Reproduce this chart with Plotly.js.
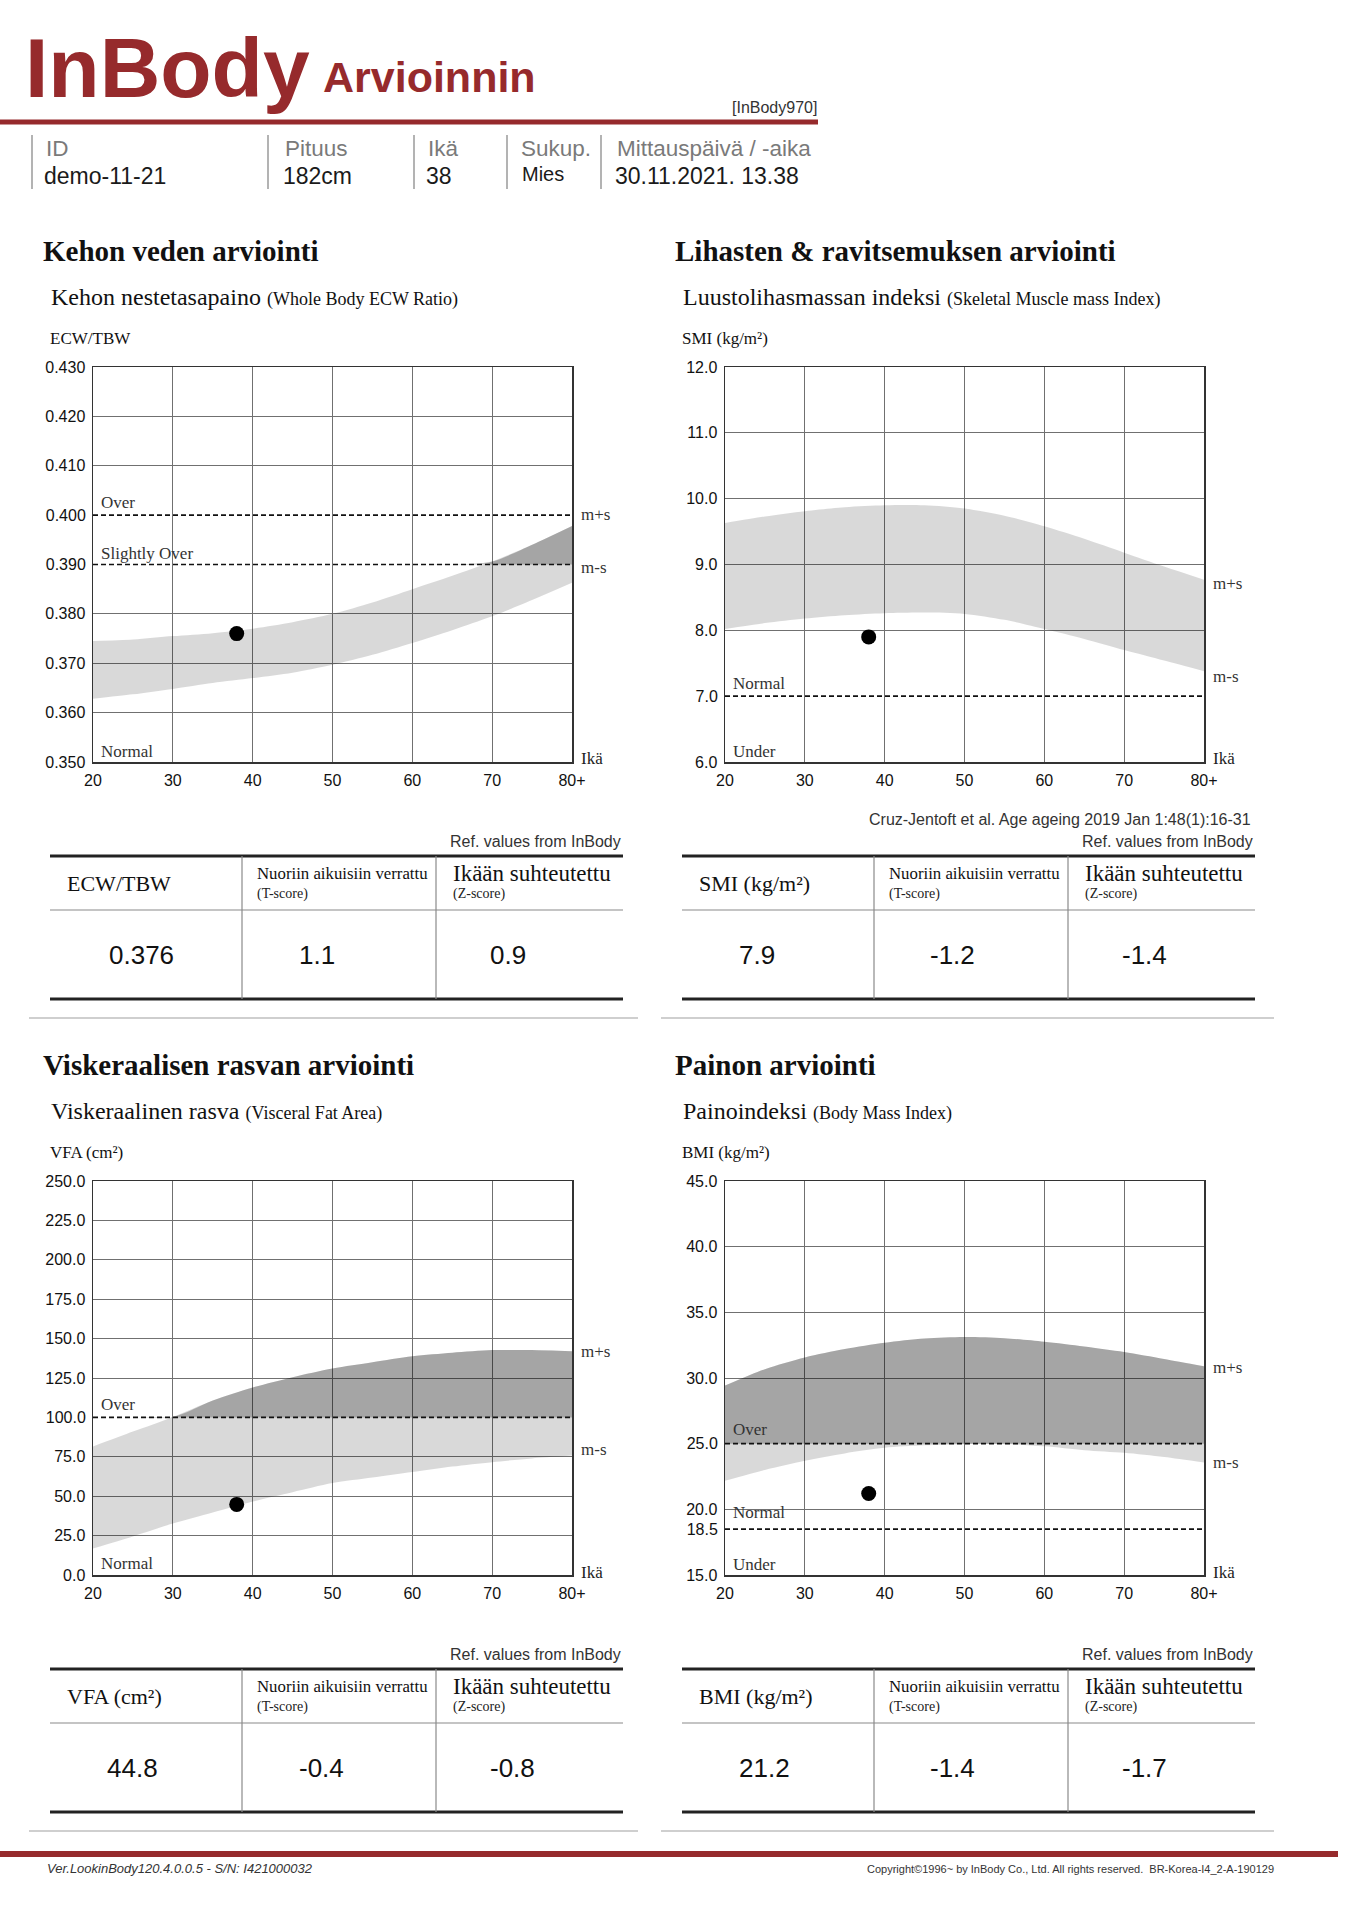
<!DOCTYPE html>
<html>
<head>
<meta charset="utf-8">
<script src="https://cdn.plot.ly/plotly-3.0.1.min.js"></script>
<style>html,body{margin:0;padding:0;background:#fff;}#chart{width:1363px;height:1920px;}</style>
</head>
<body>
<div id="chart"></div>
<script>
// ---------------- DATA ----------------
const ages = [20, 25, 30, 35, 40, 45, 50, 55, 60, 65, 70, 75, 80];
const xTickVals = [20, 30, 40, 50, 60, 70, 80];
const xTickText = ['20', '30', '40', '50', '60', '70', '80+'];

// ECW/TBW reference band (m+s / m-s)
const ecwUpper = [0.3745, 0.3748, 0.3755, 0.3761, 0.3770, 0.3783, 0.3800, 0.3823, 0.3850, 0.3877, 0.3906, 0.3940, 0.3978];
const ecwLower = [0.3628, 0.3637, 0.3648, 0.3660, 0.3670, 0.3681, 0.3697, 0.3717, 0.3741, 0.3767, 0.3795, 0.3828, 0.3863];
const ecwTicks = [0.350, 0.360, 0.370, 0.380, 0.390, 0.400, 0.410, 0.420, 0.430];
const ecwDashed = [0.390, 0.400];
const ecwDarkFrom = 0.390;

// SMI reference band
const smiUpper = [9.63, 9.73, 9.81, 9.87, 9.90, 9.90, 9.85, 9.74, 9.58, 9.39, 9.18, 8.97, 8.77];
const smiLower = [8.02, 8.11, 8.18, 8.23, 8.26, 8.27, 8.25, 8.16, 8.02, 7.87, 7.70, 7.54, 7.38];
const smiTicks = [6.0, 7.0, 8.0, 9.0, 10.0, 11.0, 12.0];
const smiDashed = [7.0];

// VFA reference band
const vfaUpper = [81.6, 91.0, 100.3, 110.8, 119.0, 125.5, 131.0, 135.0, 138.8, 141.0, 142.7, 142.7, 142.0];
const vfaLower = [16.8, 24.5, 32.6, 39.6, 46.6, 52.5, 58.3, 61.8, 65.3, 68.8, 71.6, 74.0, 75.8];
const vfaTicks = [0, 25, 50, 75, 100, 125, 150, 175, 200, 225, 250];
const vfaDashed = [100];
const vfaDarkFrom = 100;

// BMI reference band
const bmiUpper = [29.42, 30.67, 31.56, 32.20, 32.68, 33.00, 33.12, 33.03, 32.76, 32.40, 31.98, 31.45, 30.90];
const bmiLower = [22.17, 23.00, 23.70, 24.26, 24.68, 24.87, 24.96, 24.96, 24.80, 24.50, 24.30, 23.98, 23.56];
const bmiTicks = [15.0, 18.5, 20.0, 25.0, 30.0, 35.0, 40.0, 45.0];
const bmiDashed = [18.5, 25.0];
const bmiDarkFrom = 25.0;

// Measurement
const patientAge = 38;
const measuredValues = [0.376, 7.9, 44.8, 21.2];
const measuredText = ['0.376', '7.9', '44.8', '21.2'];
const tScores = ['1.1', '-1.2', '-0.4', '-1.4'];
const zScores = ['0.9', '-1.4', '-0.8', '-1.7'];
const tableMetrics = ['ECW/TBW', 'SMI (kg/m²)', 'VFA (cm²)', 'BMI (kg/m²)'];

// Header info
const infoLabels = ['ID', 'Pituus', 'Ikä', 'Sukup.', 'Mittauspäivä / -aika'];
const infoValues = ['demo-11-21', '182cm', '38', 'Mies', '30.11.2021. 13.38'];

// ---------------- LAYOUT HELPERS ----------------
const W = 1363, H = 1920;
const SERIF = '"Liberation Serif", "Times New Roman", serif';
const SANS = '"Liberation Sans", Arial, sans-serif';
const RED = '#962a2c';
const px = x => x / W;
const py = y => 1 - y / H;

const annotations = [];
const shapes = [];
function T(x, y, text, size, o) {
  o = o || {};
  annotations.push({
    xref: 'paper', yref: 'paper', x: px(x), y: py(y), text: text, showarrow: false,
    xanchor: o.xa || 'left', yanchor: o.ya || 'middle', borderpad: 0,
    font: {family: o.family || SANS, size: size, color: o.color || '#1a1a1a'}
  });
}
function L(x0, y0, x1, y1, color, width, dash) {
  shapes.push({type: 'line', xref: 'paper', yref: 'paper', x0: px(x0), y0: py(y0), x1: px(x1), y1: py(y1),
    line: {color: color, width: width, dash: dash || 'solid'}, layer: 'above'});
}

// ---------------- HEADER ----------------
T(24, 68, '<b>InBody</b>', 84, {color: RED});
T(322, 77, '<b>Arvioinnin</b>', 43, {color: RED});
T(818, 107, '[InBody970]', 16, {xa: 'right', color: '#333'});
L(0, 122, 818, 122, RED, 5);
const infoX = [45, 284, 427, 520, 616];
const sepX = [32, 268, 414, 507, 601];
sepX.forEach(x => L(x, 135, x, 189, '#9a9a9a', 1.5));
infoLabels.forEach((s, i) => T(infoX[i], 148, s, 22.5, {color: '#7a7a7a'}));
infoValues.forEach((s, i) => T(infoX[i] - 2 + (i === 3 ? 3 : 0), i === 3 ? 174 : 176, s, i === 3 ? 20 : 23, {color: '#1a1a1a'}));

// ---------------- PANELS ----------------
const panels = [
  {title: 'Kehon veden arviointi', sub: 'Kehon nestetasapaino', subEn: '(Whole Body ECW Ratio)', ytitle: 'ECW/TBW',
   left: 93, right: 572, top: 367, bottom: 762, colX: 42,
   upper: ecwUpper, lower: ecwLower, ticks: ecwTicks, dashed: ecwDashed, dark: ecwDarkFrom, dec: 3},
  {title: 'Lihasten &amp; ravitsemuksen arviointi', sub: 'Luustolihasmassan indeksi', subEn: '(Skeletal Muscle mass Index)', ytitle: 'SMI (kg/m²)',
   left: 725, right: 1204, top: 367, bottom: 762, colX: 674,
   upper: smiUpper, lower: smiLower, ticks: smiTicks, dashed: smiDashed, dark: null, dec: 1},
  {title: 'Viskeraalisen rasvan arviointi', sub: 'Viskeraalinen rasva', subEn: '(Visceral Fat Area)', ytitle: 'VFA (cm²)',
   left: 93, right: 572, top: 1181, bottom: 1575, colX: 42,
   upper: vfaUpper, lower: vfaLower, ticks: vfaTicks, dashed: vfaDashed, dark: vfaDarkFrom, dec: 1},
  {title: 'Painon arviointi', sub: 'Painoindeksi', subEn: '(Body Mass Index)', ytitle: 'BMI (kg/m²)',
   left: 725, right: 1204, top: 1181, bottom: 1575, colX: 674,
   upper: bmiUpper, lower: bmiLower, ticks: bmiTicks, dashed: bmiDashed, dark: bmiDarkFrom, dec: 1}
];

const traces = [];
const layout = {
  width: W, height: H, margin: {l: 0, r: 0, t: 0, b: 0},
  paper_bgcolor: '#ffffff', plot_bgcolor: 'rgba(0,0,0,0)', showlegend: false,
  annotations: annotations, shapes: shapes
};

panels.forEach((p, i) => {
  const n = i + 1;
  const xa = n === 1 ? 'x' : 'x' + n;
  const ya = n === 1 ? 'y' : 'y' + n;
  const ovl = 'y' + (n + 4);
  const rng = [p.ticks[0], p.ticks[p.ticks.length - 1]];
  const fmt = v => v.toFixed(p.dec);
  const gridVals = p.ticks.filter(v => p.dashed.indexOf(v) < 0);
  const tickFont = {family: SANS, size: 16, color: '#111'};
  layout['xaxis' + (n === 1 ? '' : n)] = {
    domain: [px(p.left), px(p.right)], anchor: ya, range: [ages[0], ages[ages.length - 1]],
    tickmode: 'array', tickvals: xTickVals, ticktext: xTickText, tickfont: tickFont,
    ticks: 'outside', ticklen: 3, tickcolor: 'rgba(0,0,0,0)',
    showgrid: true, gridcolor: '#707070', gridwidth: 1, zeroline: false,
    showline: true, mirror: true, linecolor: '#333', linewidth: 1.5, fixedrange: true
  };
  layout['yaxis' + (n === 1 ? '' : n)] = {
    domain: [py(p.bottom), py(p.top)], anchor: xa, range: rng,
    tickmode: 'array', tickvals: gridVals, ticktext: gridVals.map(fmt), tickfont: tickFont,
    ticks: 'outside', ticklen: 3, tickcolor: 'rgba(0,0,0,0)',
    showgrid: true, gridcolor: '#707070', gridwidth: 1, zeroline: false,
    showline: true, mirror: true, linecolor: '#333', linewidth: 1.5, fixedrange: true
  };
  layout['yaxis' + (n + 4)] = {
    overlaying: ya, anchor: xa, side: 'left', range: rng,
    tickmode: 'array', tickvals: p.dashed, ticktext: p.dashed.map(fmt), tickfont: tickFont,
    ticks: 'outside', ticklen: 3, tickcolor: 'rgba(0,0,0,0)',
    showgrid: false, zeroline: false, showline: false, fixedrange: true
  };
  traces.push({x: [], y: [], xaxis: xa, yaxis: ovl, mode: 'markers', hoverinfo: 'skip', showlegend: false});

  // reference band (light)
  traces.push({x: ages, y: p.lower, xaxis: xa, yaxis: ya, mode: 'lines', line: {width: 0, shape: 'spline', smoothing: 0.8}, hoverinfo: 'skip'});
  traces.push({x: ages, y: p.upper, xaxis: xa, yaxis: ya, mode: 'lines', line: {width: 0, shape: 'spline', smoothing: 0.8},
    fill: 'tonexty', fillcolor: 'rgba(0,0,0,0.15)', hoverinfo: 'skip'});
  // part of band above the "Over" limit (darker)
  if (p.dark !== null) {
    traces.push({x: ages, y: p.lower.map(v => Math.max(v, p.dark)), xaxis: xa, yaxis: ya, mode: 'lines',
      line: {width: 0, shape: 'spline', smoothing: 0.8}, hoverinfo: 'skip'});
    traces.push({x: ages, y: p.upper.map(v => Math.max(v, p.dark)), xaxis: xa, yaxis: ya, mode: 'lines',
      line: {width: 0, shape: 'spline', smoothing: 0.8}, fill: 'tonexty', fillcolor: 'rgba(0,0,0,0.24)', hoverinfo: 'skip'});
  }
  // measured point
  traces.push({x: [patientAge], y: [measuredValues[i]], xaxis: xa, yaxis: ya, mode: 'markers',
    marker: {size: 15, color: '#000'}, hoverinfo: 'skip'});
  // dashed limits
  p.dashed.forEach(v => shapes.push({type: 'line', xref: xa, yref: ya, x0: ages[0], x1: ages[ages.length - 1], y0: v, y1: v,
    line: {color: '#111', width: 1.7, dash: '5px,3px'}, layer: 'above'}));

  // texts
  const dy = p.top - 367;
  T(p.colX, 251 + dy, '<b>' + p.title + '</b>', 29, {family: SERIF, color: '#111'});
  T(p.colX + 8, 297 + dy, p.sub + ' <span style="font-size:18px">' + p.subEn + '</span>', 24, {family: SERIF, color: '#111'});
  T(p.colX + 7, 338 + dy, p.ytitle, 17, {family: SERIF, color: '#111'});
  T(p.right + 8, p.bottom - 3, 'Ikä', 17, {family: SERIF, color: '#222'});
});

// in-chart zone labels
const lab = (x, y, s) => T(x, y, s, 17, {family: SERIF, color: '#333'});
lab(100, 502, 'Over'); lab(100, 553, 'Slightly Over'); lab(100, 752, 'Normal');
lab(580, 514, 'm+s'); lab(580, 567, 'm-s');
lab(732, 684, 'Normal'); lab(732, 751, 'Under');
lab(1212, 583, 'm+s'); lab(1212, 676, 'm-s');
lab(100, 1404, 'Over'); lab(100, 1563, 'Normal');
lab(580, 1351, 'm+s'); lab(580, 1449, 'm-s');
lab(732, 1429, 'Over'); lab(732, 1512, 'Normal'); lab(732, 1564, 'Under');
lab(1212, 1367, 'm+s'); lab(1212, 1462, 'm-s');

// ---------------- TABLES ----------------
const tables = [
  {l: 50, r: 623, v1: 242, v2: 436, top: 856, metricX: 66, valX: [141, 317, 508]},
  {l: 682, r: 1255, v1: 874, v2: 1068, top: 856, metricX: 698, valX: [757, 953, 1144]},
  {l: 50, r: 623, v1: 242, v2: 436, top: 1669, metricX: 66, valX: [132, 321, 512]},
  {l: 682, r: 1255, v1: 874, v2: 1068, top: 1669, metricX: 698, valX: [764, 953, 1144]}
];
tables.forEach((t, i) => {
  const mid = t.top + 54, bot = t.top + 143;
  L(t.l, t.top, t.r, t.top, '#222', 3);
  L(t.l, mid, t.r, mid, '#8a8a8a', 1.2);
  L(t.l, bot, t.r, bot, '#222', 3);
  L(t.v1, t.top, t.v1, bot, '#8a8a8a', 1.2);
  L(t.v2, t.top, t.v2, bot, '#8a8a8a', 1.2);
  T(t.r - 1, t.top - 15, 'Ref. values from InBody', 16, {xa: 'right', color: '#333'});
  T(t.metricX, t.top + 27, tableMetrics[i], 22, {family: SERIF, color: '#111'});
  T(t.v1 + 14, t.top + 17, 'Nuoriin aikuisiin verrattu', 16.8, {family: SERIF, color: '#111'});
  T(t.v1 + 14, t.top + 38, '(T-score)', 14, {family: SERIF, color: '#222'});
  T(t.v2 + 16, t.top + 17, 'Ikään suhteutettu', 23, {family: SERIF, color: '#111'});
  T(t.v2 + 16, t.top + 38, '(Z-score)', 14, {family: SERIF, color: '#222'});
  T(t.valX[0], t.top + 99, measuredText[i], 26, {xa: 'center', color: '#111'});
  T(t.valX[1], t.top + 99, tScores[i], 26, {xa: 'center', color: '#111'});
  T(t.valX[2], t.top + 99, zScores[i], 26, {xa: 'center', color: '#111'});
  const sepY = bot + 19;
  L(t.l - 21, sepY, t.r + 15 + (i % 2 ? 4 : 0), sepY, '#cfcfcf', 2);
});
T(1252, 820, 'Cruz-Jentoft et al. Age ageing 2019 Jan 1:48(1):16-31', 16, {xa: 'right', color: '#333'});

// ---------------- FOOTER ----------------
L(0, 1854, 1338, 1854, RED, 6);
T(46, 1868, '<i>Ver.LookinBody120.4.0.0.5 - S/N: I421000032</i>', 13, {color: '#333'});
T(1275, 1869, 'Copyright©1996~ by InBody Co., Ltd. All rights reserved.  BR-Korea-I4_2-A-190129', 11, {xa: 'right', color: '#333'});

Plotly.newPlot('chart', traces, layout, {staticPlot: true, displayModeBar: false});
</script>
</body>
</html>
